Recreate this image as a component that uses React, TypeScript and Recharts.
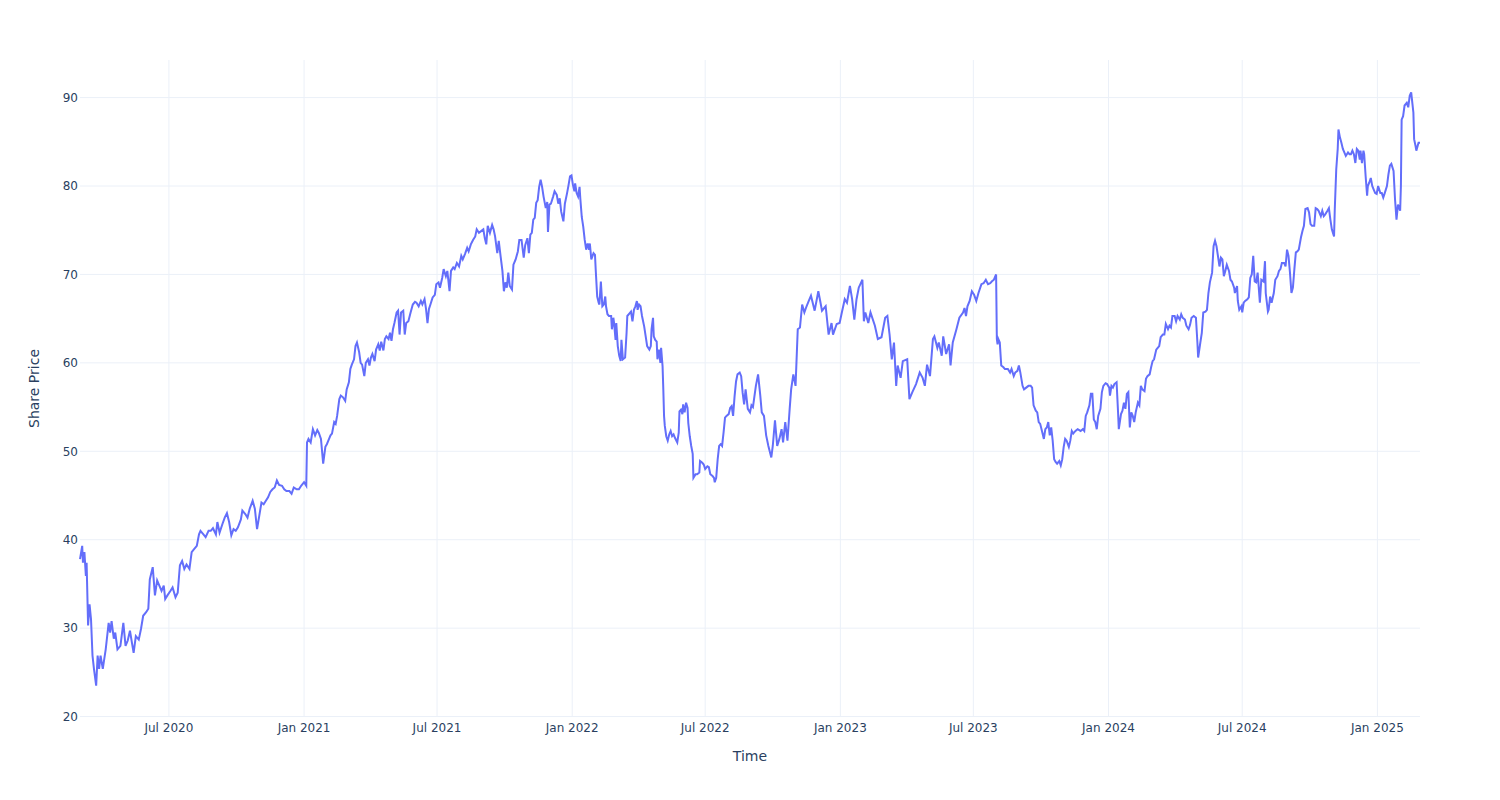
import { LineChart, Line, XAxis, YAxis, CartesianGrid } from "recharts";

// [month-day, share price], one array per year
const points2020: [string, number][] = [
  ["03-02", 37.8], ["03-05", 39.3], ["03-06", 37.4], ["03-08", 38.6], ["03-10", 35.9], ["03-11", 37.4],
  ["03-13", 30.3], ["03-15", 32.7], ["03-17", 31.0], ["03-19", 26.9], ["03-21", 25.4], ["03-24", 23.5],
  ["03-26", 26.9], ["03-28", 25.4], ["03-30", 26.9], ["04-02", 25.4], ["04-04", 26.5], ["04-06", 27.6],
  ["04-10", 30.6], ["04-12", 29.5], ["04-14", 30.8], ["04-17", 28.8], ["04-19", 29.5], ["04-22", 27.6],
  ["04-26", 28.0], ["04-30", 30.6], ["05-03", 28.0], ["05-06", 28.6], ["05-09", 29.7], ["05-12", 28.2],
  ["05-14", 27.2], ["05-17", 29.1], ["05-21", 28.7], ["05-24", 29.9], ["05-27", 31.4], ["05-31", 31.8],
  ["06-03", 32.2], ["06-05", 35.5], ["06-09", 36.9], ["06-12", 33.7], ["06-15", 35.4], ["06-18", 34.8],
  ["06-21", 34.2], ["06-24", 34.8], ["06-26", 33.3], ["06-29", 33.7], ["07-03", 34.2], ["07-06", 34.6],
  ["07-10", 33.5], ["07-13", 34.0], ["07-16", 37.1], ["07-19", 37.6], ["07-22", 36.7], ["07-25", 37.2],
  ["07-29", 36.7], ["08-01", 38.6], ["08-04", 38.9], ["08-08", 39.3], ["08-11", 40.6], ["08-13", 41.0],
  ["08-17", 40.6], ["08-20", 40.3], ["08-24", 41.0], ["08-27", 41.0], ["08-30", 41.3], ["09-03", 40.6],
  ["09-05", 42.0], ["09-08", 40.8], ["09-12", 41.8], ["09-15", 42.5], ["09-18", 43.0], ["09-21", 42.0],
  ["09-24", 40.5], ["09-27", 41.2], ["09-30", 41.0], ["10-03", 41.4], ["10-07", 42.3], ["10-09", 43.3],
  ["10-13", 42.9], ["10-16", 42.5], ["10-19", 43.5], ["10-23", 44.4], ["10-26", 43.5], ["10-29", 41.2],
  ["11-01", 42.7], ["11-04", 44.2], ["11-07", 44.0], ["11-10", 44.4], ["11-13", 44.8], ["11-16", 45.4],
  ["11-19", 45.7], ["11-22", 45.9], ["11-25", 46.7], ["11-28", 46.2], ["12-02", 46.1], ["12-05", 45.7],
  ["12-08", 45.5], ["12-12", 45.5], ["12-15", 45.2], ["12-18", 45.9], ["12-22", 45.7], ["12-25", 45.7],
  ["12-28", 46.1],
];

const points2021: [string, number][] = [
  ["01-01", 46.5], ["01-04", 46.1], ["01-05", 51.0], ["01-07", 51.4], ["01-10", 51.0], ["01-13", 52.5],
  ["01-16", 51.8], ["01-19", 52.4], ["01-21", 52.1], ["01-24", 51.4], ["01-27", 48.6], ["01-30", 50.5],
  ["02-01", 50.8], ["02-04", 51.4], ["02-06", 51.8], ["02-08", 52.0], ["02-11", 53.3], ["02-13", 53.1],
  ["02-15", 54.0], ["02-18", 55.9], ["02-20", 56.3], ["02-23", 56.1], ["02-26", 55.7], ["02-28", 57.0],
  ["03-03", 57.8], ["03-05", 59.3], ["03-07", 59.8], ["03-10", 60.4], ["03-12", 61.9], ["03-14", 62.3],
  ["03-17", 61.2], ["03-19", 60.0], ["03-21", 59.8], ["03-24", 58.5], ["03-26", 60.0], ["03-29", 60.4],
  ["03-31", 59.7], ["04-02", 60.6], ["04-04", 61.0], ["04-07", 60.2], ["04-09", 61.5], ["04-12", 62.1],
  ["04-14", 61.4], ["04-16", 62.4], ["04-19", 61.4], ["04-21", 62.7], ["04-23", 63.0], ["04-26", 62.7],
  ["04-28", 63.4], ["04-30", 62.5], ["05-02", 63.8], ["05-04", 64.5], ["05-07", 65.7], ["05-09", 65.9],
  ["05-11", 63.2], ["05-13", 65.7], ["05-16", 65.9], ["05-18", 63.2], ["05-20", 64.5], ["05-23", 64.7],
  ["05-26", 65.7], ["05-29", 66.6], ["06-01", 66.9], ["06-03", 66.8], ["06-06", 66.4], ["06-09", 67.0],
  ["06-11", 66.6], ["06-14", 67.2], ["06-16", 66.1], ["06-18", 64.5], ["06-20", 66.1], ["06-22", 66.6],
  ["06-25", 67.4], ["06-28", 67.7], ["06-30", 68.9], ["07-03", 69.1], ["07-05", 68.5], ["07-08", 69.6],
  ["07-10", 70.6], ["07-13", 69.8], ["07-15", 70.4], ["07-18", 68.1], ["07-20", 70.4], ["07-23", 70.8],
  ["07-25", 70.6], ["07-28", 71.3], ["07-31", 70.9], ["08-03", 72.1], ["08-05", 71.7], ["08-08", 72.3],
  ["08-11", 73.0], ["08-13", 72.6], ["08-16", 73.4], ["08-19", 73.9], ["08-22", 74.3], ["08-24", 75.1],
  ["08-27", 74.7], ["08-30", 74.9], ["09-02", 75.1], ["09-04", 74.1], ["09-06", 73.4], ["09-08", 75.5],
  ["09-11", 74.7], ["09-14", 75.6], ["09-16", 75.1], ["09-18", 74.3], ["09-21", 72.4], ["09-23", 73.8],
  ["09-25", 72.4], ["09-28", 70.4], ["09-30", 68.1], ["10-02", 69.1], ["10-04", 68.5], ["10-06", 70.2],
  ["10-08", 68.7], ["10-11", 68.3], ["10-13", 71.1], ["10-16", 71.7], ["10-19", 72.6], ["10-21", 73.9],
  ["10-24", 73.9], ["10-27", 71.9], ["10-29", 73.3], ["11-01", 74.1], ["11-03", 72.4], ["11-05", 74.5],
  ["11-07", 74.7], ["11-09", 76.2], ["11-11", 76.4], ["11-13", 78.1], ["11-15", 78.4], ["11-17", 79.9],
  ["11-19", 80.7], ["11-21", 79.9], ["11-23", 78.8], ["11-26", 77.5], ["11-28", 78.2], ["11-29", 74.8],
  ["12-01", 77.9], ["12-03", 78.0], ["12-06", 78.8], ["12-08", 79.4], ["12-11", 79.0], ["12-13", 78.0],
  ["12-15", 78.6], ["12-17", 77.1], ["12-20", 76.0], ["12-22", 78.0], ["12-25", 79.2], ["12-27", 80.1],
  ["12-29", 81.1], ["12-31", 81.2],
];

const points2022: [string, number][] = [
  ["01-02", 80.1], ["01-04", 79.4], ["01-05", 80.3], ["01-07", 79.2], ["01-09", 78.8], ["01-11", 79.9],
  ["01-12", 78.6], ["01-14", 76.5], ["01-16", 75.4], ["01-18", 73.9], ["01-20", 72.8], ["01-22", 73.5],
  ["01-24", 72.8], ["01-25", 73.5], ["01-27", 71.7], ["01-30", 72.4], ["02-01", 72.2], ["02-02", 70.5],
  ["02-04", 67.5], ["02-06", 66.8], ["02-07", 66.6], ["02-09", 69.2], ["02-11", 66.4], ["02-13", 66.6],
  ["02-15", 67.5], ["02-16", 66.4], ["02-18", 65.5], ["02-20", 65.3], ["02-23", 65.3], ["02-24", 63.8],
  ["02-26", 65.1], ["02-27", 64.5], ["03-01", 62.6], ["03-02", 64.5], ["03-04", 61.9], ["03-06", 60.8],
  ["03-08", 60.2], ["03-09", 62.6], ["03-11", 60.4], ["03-14", 60.6], ["03-16", 63.4], ["03-17", 65.3],
  ["03-20", 65.6], ["03-22", 65.8], ["03-24", 64.7], ["03-26", 66.0], ["03-28", 66.4], ["03-30", 67.0],
  ["03-31", 66.0], ["04-02", 66.6], ["04-04", 66.4], ["04-06", 65.3], ["04-09", 64.1], ["04-11", 63.0],
  ["04-13", 61.9], ["04-16", 61.5], ["04-18", 61.9], ["04-19", 63.8], ["04-21", 65.1], ["04-22", 63.0],
  ["04-24", 62.6], ["04-26", 62.4], ["04-27", 60.4], ["04-29", 61.5], ["05-01", 60.0], ["05-02", 61.7],
  ["05-04", 59.6], ["05-05", 57.0], ["05-06", 54.0], ["05-07", 52.9], ["05-09", 51.7], ["05-11", 51.2],
  ["05-13", 51.9], ["05-15", 52.3], ["05-17", 51.7], ["05-19", 51.9], ["05-21", 51.5], ["05-24", 51.0],
  ["05-26", 52.1], ["05-27", 54.5], ["05-29", 54.7], ["05-31", 54.2], ["06-01", 55.3], ["06-03", 54.4],
  ["06-05", 55.5], ["06-07", 54.9], ["06-08", 53.2], ["06-10", 51.7], ["06-12", 50.6], ["06-14", 49.7],
  ["06-15", 47.0], ["06-18", 47.4], ["06-20", 47.4], ["06-23", 47.6], ["06-24", 48.9], ["06-27", 48.7],
  ["06-29", 48.5], ["07-01", 48.0], ["07-04", 48.3], ["07-06", 48.2], ["07-08", 47.4], ["07-11", 47.2],
  ["07-13", 47.0], ["07-14", 46.5], ["07-16", 47.0], ["07-18", 49.1], ["07-20", 50.6], ["07-22", 50.8],
  ["07-24", 50.6], ["07-26", 52.1], ["07-28", 53.8], ["07-30", 54.0], ["08-02", 54.2], ["08-04", 54.9],
  ["08-06", 55.1], ["08-08", 54.0], ["08-10", 56.2], ["08-12", 57.9], ["08-14", 58.7], ["08-17", 58.9],
  ["08-19", 58.5], ["08-21", 56.6], ["08-23", 55.3], ["08-25", 57.0], ["08-28", 54.8], ["08-31", 54.4],
  ["09-02", 55.2], ["09-04", 55.0], ["09-08", 57.4], ["09-11", 58.7], ["09-14", 56.3], ["09-16", 54.4],
  ["09-19", 54.0], ["09-22", 51.8], ["09-25", 50.6], ["09-29", 49.3], ["10-01", 50.6], ["10-04", 53.5],
  ["10-07", 50.6], ["10-10", 51.4], ["10-13", 52.5], ["10-15", 51.0], ["10-18", 53.3], ["10-21", 51.2],
  ["10-24", 54.8], ["10-26", 57.0], ["10-29", 58.7], ["11-01", 57.4], ["11-04", 63.8], ["11-07", 64.0],
  ["11-10", 66.6], ["11-13", 65.7], ["11-16", 66.4], ["11-19", 67.0], ["11-22", 67.6], ["11-27", 65.9],
  ["12-02", 68.1], ["12-05", 66.8], ["12-07", 65.9], ["12-12", 66.4], ["12-16", 63.2], ["12-20", 64.5],
  ["12-22", 63.2], ["12-27", 64.4], ["12-31", 64.5],
];

const points2023: [string, number][] = [
  ["01-03", 65.7], ["01-07", 67.2], ["01-10", 66.8], ["01-14", 68.7], ["01-17", 67.2], ["01-20", 64.9],
  ["01-23", 67.2], ["01-26", 68.5], ["01-31", 69.4], ["02-02", 64.7], ["02-04", 65.7], ["02-08", 64.5],
  ["02-11", 65.7], ["02-17", 64.2], ["02-21", 62.7], ["02-26", 62.9], ["03-03", 65.1], ["03-06", 65.3],
  ["03-09", 63.2], ["03-12", 60.4], ["03-15", 62.3], ["03-18", 57.4], ["03-20", 59.7], ["03-24", 58.3],
  ["03-27", 60.2], ["04-02", 60.4], ["04-05", 55.9], ["04-09", 56.7], ["04-14", 57.6], ["04-19", 58.9],
  ["04-23", 58.3], ["04-26", 57.4], ["04-29", 59.8], ["05-03", 58.5], ["05-07", 62.7], ["05-09", 63.0],
  ["05-13", 61.7], ["05-15", 62.3], ["05-19", 60.8], ["05-21", 63.0], ["05-25", 61.0], ["05-29", 62.1],
  ["05-31", 59.7], ["06-03", 62.3], ["06-08", 63.8], ["06-12", 65.1], ["06-17", 65.7], ["06-19", 66.2],
  ["06-21", 65.3], ["06-23", 66.4], ["06-26", 67.0], ["06-29", 68.1], ["07-02", 67.7], ["07-05", 67.0],
  ["07-08", 67.9], ["07-12", 68.9], ["07-15", 69.0], ["07-18", 69.4], ["07-21", 68.9], ["07-24", 69.0],
  ["07-26", 69.2], ["07-29", 69.4], ["08-01", 70.0], ["08-02", 62.7], ["08-03", 62.1], ["08-04", 62.7],
  ["08-06", 62.3], ["08-08", 59.7], ["08-11", 59.5], ["08-13", 59.3], ["08-17", 59.3], ["08-20", 58.9],
  ["08-22", 59.3], ["08-25", 58.5], ["08-27", 58.9], ["08-30", 59.1], ["09-01", 59.7], ["09-03", 58.9],
  ["09-06", 57.4], ["09-08", 57.0], ["09-11", 57.2], ["09-14", 57.4], ["09-17", 57.4], ["09-19", 57.2],
  ["09-21", 55.2], ["09-24", 54.6], ["09-26", 54.4], ["09-28", 53.3], ["09-30", 53.1], ["10-03", 52.1],
  ["10-05", 51.4], ["10-07", 52.5], ["10-09", 52.7], ["10-11", 53.3], ["10-13", 51.8], ["10-15", 52.7],
  ["10-17", 51.2], ["10-19", 49.1], ["10-21", 48.8], ["10-23", 48.6], ["10-26", 48.9], ["10-28", 48.4],
  ["10-30", 49.1], ["11-01", 50.5], ["11-03", 51.4], ["11-05", 51.2], ["11-08", 50.5], ["11-10", 51.2],
  ["11-12", 52.3], ["11-14", 52.0], ["11-17", 52.3], ["11-20", 52.5], ["11-24", 52.3], ["11-27", 52.5],
  ["11-29", 52.3], ["12-01", 54.0], ["12-03", 54.4], ["12-06", 55.2], ["12-08", 56.5], ["12-10", 56.5],
  ["12-12", 53.6], ["12-14", 53.3], ["12-16", 52.5], ["12-18", 54.0], ["12-21", 54.8], ["12-23", 56.7],
  ["12-25", 57.4], ["12-28", 57.7], ["12-30", 57.6],
];

const points2024: [string, number][] = [
  ["01-02", 57.2], ["01-03", 56.3], ["01-05", 57.4], ["01-07", 57.2], ["01-09", 57.6], ["01-12", 57.8],
  ["01-14", 54.4], ["01-15", 52.5], ["01-18", 54.2], ["01-20", 54.6], ["01-22", 55.5], ["01-24", 54.8],
  ["01-26", 56.5], ["01-28", 56.7], ["01-30", 52.7], ["02-01", 54.4], ["02-03", 54.0], ["02-05", 53.3],
  ["02-07", 54.4], ["02-10", 55.5], ["02-12", 55.2], ["02-14", 57.4], ["02-16", 57.0], ["02-19", 56.8],
  ["02-21", 58.2], ["02-23", 58.5], ["02-26", 58.7], ["02-28", 59.5], ["03-01", 60.2], ["03-03", 60.4],
  ["03-06", 61.5], ["03-08", 61.7], ["03-10", 61.9], ["03-12", 62.9], ["03-15", 63.2], ["03-17", 63.2],
  ["03-19", 64.4], ["03-22", 63.8], ["03-24", 64.2], ["03-26", 64.0], ["03-28", 65.3], ["03-31", 65.3],
  ["04-02", 64.7], ["04-04", 65.3], ["04-07", 64.9], ["04-09", 65.5], ["04-11", 65.1], ["04-14", 64.9],
  ["04-16", 64.2], ["04-19", 63.8], ["04-21", 64.3], ["04-23", 65.1], ["04-26", 65.3], ["04-29", 65.1],
  ["05-01", 62.3], ["05-02", 60.6], ["05-05", 62.3], ["05-07", 63.4], ["05-09", 65.7], ["05-12", 65.8],
  ["05-14", 66.0], ["05-16", 67.9], ["05-18", 69.1], ["05-21", 70.2], ["05-23", 73.2], ["05-25", 73.8],
  ["05-27", 73.2], ["05-30", 71.5], ["05-31", 70.9], ["06-02", 71.9], ["06-04", 71.7], ["06-06", 69.8],
  ["06-08", 70.4], ["06-10", 71.1], ["06-13", 70.4], ["06-15", 69.4], ["06-17", 69.2], ["06-20", 68.5],
  ["06-21", 67.9], ["06-24", 68.7], ["06-25", 67.0], ["06-27", 66.0], ["06-30", 66.4], ["07-01", 65.7],
  ["07-03", 66.8], ["07-05", 67.0], ["07-08", 67.2], ["07-10", 67.4], ["07-12", 69.6], ["07-14", 70.0],
  ["07-16", 72.1], ["07-18", 69.2], ["07-20", 69.1], ["07-22", 70.2], ["07-23", 69.1], ["07-25", 66.8],
  ["07-27", 69.4], ["07-30", 69.2], ["08-01", 71.5], ["08-02", 67.9], ["08-05", 65.8], ["08-06", 66.0],
  ["08-08", 67.5], ["08-10", 66.8], ["08-13", 67.9], ["08-15", 69.4], ["08-18", 69.8], ["08-20", 70.4],
  ["08-22", 70.6], ["08-24", 71.3], ["08-27", 71.3], ["08-29", 70.9], ["08-31", 72.8], ["09-02", 72.1],
  ["09-04", 70.2], ["09-06", 67.9], ["09-08", 68.5], ["09-10", 70.6], ["09-12", 72.5], ["09-14", 72.6],
  ["09-16", 72.8], ["09-19", 74.2], ["09-21", 74.9], ["09-23", 75.5], ["09-25", 77.4], ["09-28", 77.5],
  ["09-30", 77.0], ["10-02", 75.7], ["10-04", 75.5], ["10-07", 75.5], ["10-09", 77.5], ["10-11", 77.4],
  ["10-13", 77.2], ["10-16", 76.6], ["10-18", 77.2], ["10-20", 76.6], ["10-22", 76.8], ["10-25", 77.2],
  ["10-27", 77.5], ["10-29", 76.2], ["10-31", 75.1], ["11-03", 74.3], ["11-04", 77.4], ["11-06", 81.9],
  ["11-08", 84.2], ["11-09", 86.4], ["11-11", 85.5], ["11-13", 84.9], ["11-15", 84.2], ["11-17", 83.8],
  ["11-19", 83.4], ["11-22", 83.8], ["11-24", 83.6], ["11-26", 83.6], ["11-28", 84.0], ["11-30", 83.6],
  ["12-02", 82.6], ["12-04", 84.2], ["12-06", 84.0], ["12-08", 83.0], ["12-09", 84.0], ["12-11", 82.6],
  ["12-13", 84.0], ["12-14", 83.6], ["12-16", 81.1], ["12-18", 78.9], ["12-19", 80.0], ["12-21", 80.4],
  ["12-23", 80.9], ["12-25", 80.0], ["12-27", 79.6], ["12-29", 79.2], ["12-31", 79.1],
];

const points2025: [string, number][] = [
  ["01-02", 80.0], ["01-05", 79.2], ["01-07", 79.2], ["01-09", 78.7], ["01-11", 79.2], ["01-14", 80.0],
  ["01-16", 81.3], ["01-18", 82.3], ["01-20", 82.5], ["01-23", 81.7], ["01-25", 78.5], ["01-27", 76.2],
  ["01-29", 77.9], ["02-01", 77.2], ["02-02", 80.0], ["02-03", 87.5], ["02-05", 87.9], ["02-07", 89.1],
  ["02-10", 89.4], ["02-12", 88.9], ["02-14", 90.2], ["02-16", 90.6], ["02-19", 88.3], ["02-20", 85.3],
  ["02-22", 84.5], ["02-23", 84.0], ["02-26", 84.9], ["02-28", 84.9],
];

const years: [string, [string, number][]][] = [
  ["2020", points2020],
  ["2021", points2021],
  ["2022", points2022],
  ["2023", points2023],
  ["2024", points2024],
  ["2025", points2025],
];

const xTickDates = [
  "2020-07-01", "2021-01-01", "2021-07-01", "2022-01-01", "2022-07-01",
  "2023-01-01", "2023-07-01", "2024-01-01", "2024-07-01", "2025-01-01",
];
const yTicks = [20, 30, 40, 50, 60, 70, 80, 90];

const MONTHS = ["Jan", "Feb", "Mar", "Apr", "May", "Jun", "Jul", "Aug", "Sep", "Oct", "Nov", "Dec"];

const toTime = (iso: string) => Date.parse(iso + "T00:00:00Z");

const data = years.flatMap(([year, pts]) =>
  pts.map(([md, price]) => ({ t: toTime(`${year}-${md}`), price }))
);

const xTicks = xTickDates.map(toTime);

const formatDate = (t: number) => {
  const d = new Date(t);
  return `${MONTHS[d.getUTCMonth()]} ${d.getUTCFullYear()}`;
};

const FONT = "'DejaVu Sans', Verdana, sans-serif";
const TEXT = "#2a3f5f";
const GRID = "#EBF0F8";

export default function App() {
  return (
    <div style={{ position: "absolute", left: 0, top: 0, width: 1500, height: 800, background: "#fff" }}>
      <LineChart
        width={1500}
        height={800}
        data={data}
        margin={{ top: 60, right: 80, bottom: 53, left: 20 }}
      >
        <CartesianGrid stroke={GRID} strokeWidth={1} horizontalValues={yTicks} verticalValues={xTicks} />
        <XAxis
          dataKey="t"
          type="number"
          scale="time"
          domain={["dataMin", "dataMax"]}
          ticks={xTicks}
          tickFormatter={formatDate}
          axisLine={false}
          tickLine={false}
          tickSize={0}
          tickMargin={6}
          height={30}
          interval={0}
          tick={{ fontSize: 12, fill: TEXT, fontFamily: FONT }}
          label={{ value: "Time", position: "bottom", offset: 4, fontSize: 14, fill: TEXT, fontFamily: FONT }}
        />
        <YAxis
          type="number"
          domain={[19.95, 94.25]}
          allowDataOverflow
          ticks={yTicks}
          axisLine={false}
          tickLine={false}
          tickSize={0}
          tickMargin={2}
          width={60}
          interval={0}
          tick={{ fontSize: 12, fill: TEXT, fontFamily: FONT }}
          label={{
            value: "Share Price",
            angle: -90,
            position: "insideLeft",
            offset: 14,
            fontSize: 14,
            fill: TEXT,
            fontFamily: FONT,
            style: { textAnchor: "middle" },
          }}
        />
        <Line
          type="linear"
          dataKey="price"
          stroke="#636efa"
          strokeWidth={2}
          dot={false}
          activeDot={false}
          isAnimationActive={false}
        />
      </LineChart>
    </div>
  );
}
